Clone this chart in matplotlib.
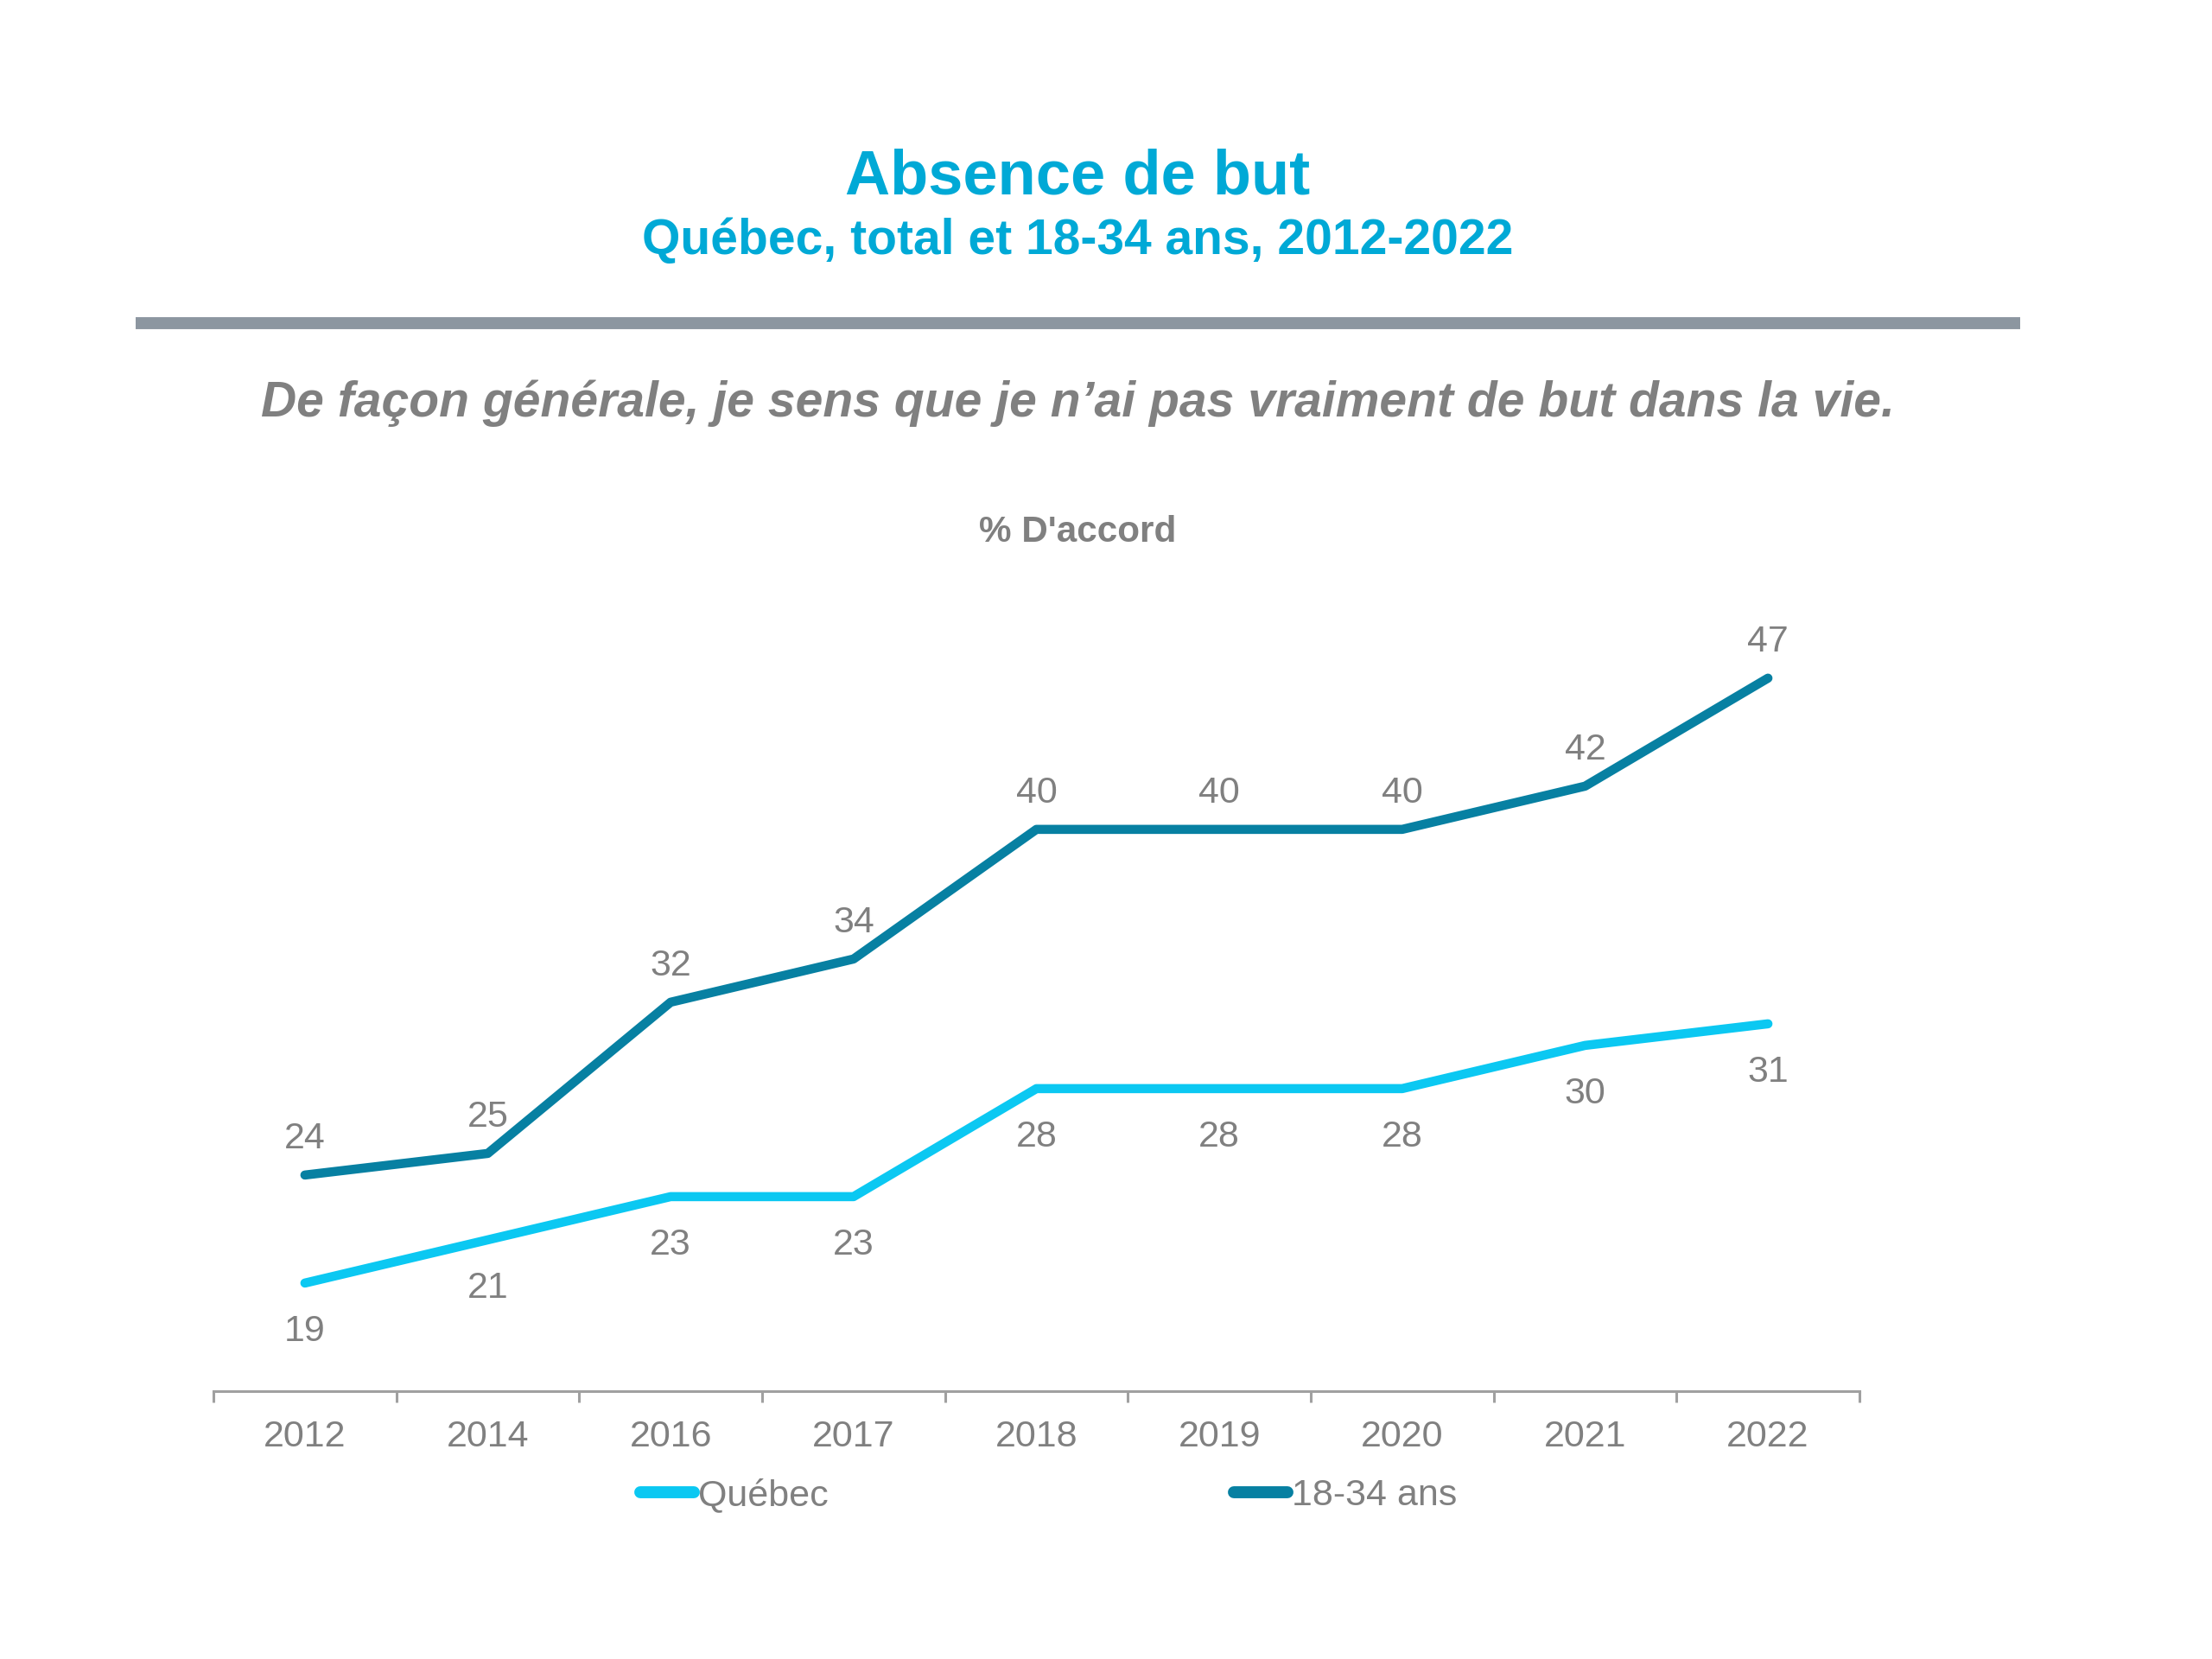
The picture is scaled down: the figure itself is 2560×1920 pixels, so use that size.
import matplotlib
matplotlib.use("Agg")
import matplotlib.pyplot as plt

# data
years = ["2012", "2014", "2016", "2017", "2018", "2019", "2020", "2021", "2022"]
quebec = [19, 21, 23, 23, 28, 28, 28, 30, 31]
jeunes = [24, 25, 32, 34, 40, 40, 40, 42, 47]

c_quebec = "#0BC8F2"
c_jeunes = "#0780A2"
c_title = "#00A9D6"
c_gray = "#808080"
narrow = ["Liberation Sans Narrow", "Liberation Sans", "DejaVu Sans"]
wide = ["Liberation Sans", "DejaVu Sans"]

fig = plt.figure(figsize=(12.8, 9.6), dpi=200)
ax = fig.add_axes([0.0965, 0.1615, 0.7441, 0.4688])

x = range(len(years))
ax.plot(x, quebec, color=c_quebec, lw=3.8, label="Québec", solid_capstyle="round")
ax.plot(x, jeunes, color=c_jeunes, lw=3.8, label="18-34 ans", solid_capstyle="round")

# value labels: Québec below, 18-34 above
for i, v in enumerate(quebec):
    ax.annotate(str(v), (i, v), xytext=(0, -24), textcoords="offset points",
                ha="center", va="baseline", fontsize=15.5, color=c_gray, family=narrow)
for i, v in enumerate(jeunes):
    ax.annotate(str(v), (i, v), xytext=(0, 11), textcoords="offset points",
                ha="center", va="baseline", fontsize=15.5, color=c_gray, family=narrow)

ax.set_xlim(-0.5, len(years) - 0.5)
ax.set_ylim(14, 50)
ax.set_xticks(list(x))
ax.set_xticklabels(years, family=narrow, fontsize=15.5, color=c_gray)
ax.set_xticks([i - 0.5 for i in range(len(years) + 1)], minor=True)
ax.tick_params(axis="x", which="major", length=0, pad=12)
ax.tick_params(axis="x", which="minor", length=4.7, width=1.1, color="#A0A0A0", direction="out")
ax.set_yticks([])
for s in ["top", "right", "left"]:
    ax.spines[s].set_visible(False)
ax.spines["bottom"].set_color("#A0A0A0")
ax.spines["bottom"].set_linewidth(1.1)

leg = fig.legend(loc="center", bbox_to_anchor=(0.474, 0.0984), ncol=2, frameon=False,
                 handlelength=1.45, handletextpad=0.1, columnspacing=10.9,
                 prop={"family": narrow, "size": 15.5})
for t in leg.get_texts():
    t.set_color(c_gray)
for h in leg.legend_handles:
    h.set_linewidth(5)

# titles and header
fig.text(0.487, 0.8833, "Absence de but", ha="center", va="baseline",
         fontsize=26, fontweight="bold", color=c_title, family=wide)
fig.text(0.487, 0.8469, "Québec, total et 18-34 ans, 2012-2022", ha="center", va="baseline",
         fontsize=20.5, fontweight="bold", color=c_title, family=wide)
fig.add_artist(plt.Line2D([0.0613, 0.9133], [0.8052, 0.8052], transform=fig.transFigure,
                          color="#8C96A0", lw=5, solid_capstyle="butt"))
fig.text(0.4873, 0.749, "De façon générale, je sens que je n’ai pas vraiment de but dans la vie.",
         ha="center", va="baseline", fontsize=20.5, fontweight="bold", style="italic",
         color=c_gray, family=wide)
fig.text(0.4873, 0.6734, "% D'accord", ha="center", va="baseline",
         fontsize=15.2, fontweight="bold", color=c_gray, family=wide)

fig.savefig("out.png", dpi=200)
